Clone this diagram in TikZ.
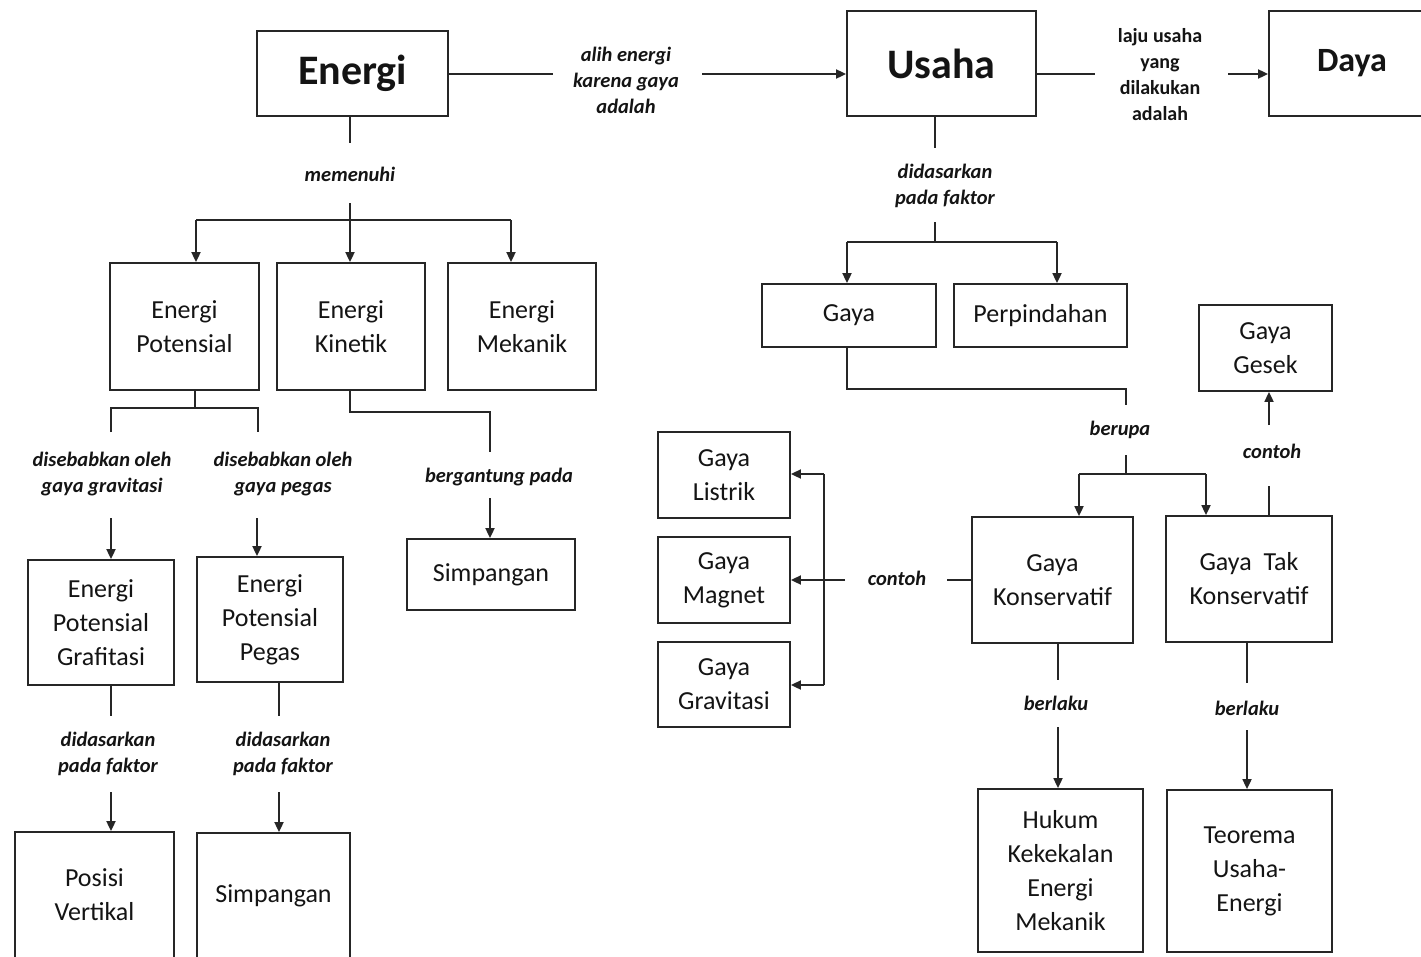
\documentclass[tikz,border=0pt]{standalone}
\usepackage{fontspec}
\setmainfont{Carlito}
\usetikzlibrary{arrows.meta}
\tikzset{
  box/.style={draw=black!85, line width=1.8pt, inner sep=0pt, align=center, text=black!92,
    font=\fontsize{26}{34}\selectfont},
  title/.style={box, font=\fontsize{42}{48}\selectfont\bfseries},
  lbl/.style={inner sep=0pt, align=center, text=black!92, font=\fontsize{20.5}{26}\selectfont\bfseries\itshape},
  lblup/.style={lbl, font=\fontsize{20}{26}\selectfont\bfseries},
  conn/.style={line width=1.8pt, draw=black!85},
  arr/.style={conn, -{Triangle[length=10pt,width=9pt]}}
}
\begin{document}
\begin{tikzpicture}[x=1pt,y=-1pt]
\clip (0,0) rectangle (1421,956);
\fill[white] (0,0) rectangle (1421,956);
% boxes
\node[title, minimum width=191pt, minimum height=85pt] (energi) at (352.5,73.5) {Energi};
\node[title, minimum width=189pt, minimum height=105pt] (usaha) at (941.5,63.5) {Usaha};
\node[title, minimum width=166pt, minimum height=105pt, font=\fontsize{34}{40}\selectfont\bfseries] (daya) at (1352,63.5) {Daya};
\node[box, minimum width=149pt, minimum height=127pt] (ep) at (184.5,326.5) {Energi\\Potensial};
\node[box, minimum width=148pt, minimum height=127pt] (ek) at (351,326.5) {Energi\\Kinetik};
\node[box, minimum width=148pt, minimum height=127pt] (em) at (522,326.5) {Energi\\Mekanik};
\node[box, minimum width=146pt, minimum height=125pt] (epg) at (101,622.5) {Energi\\Potensial\\Grafitasi};
\node[box, minimum width=146pt, minimum height=125pt] (epp) at (270,619.5) {Energi\\Potensial\\Pegas};
\node[box, minimum width=168pt, minimum height=71pt] (simp1) at (491,574.5) {Simpangan};
\node[box, minimum width=159pt, minimum height=126pt] (pv) at (94.5,895) {Posisi\\Vertikal};
\node[box, minimum width=153pt, minimum height=125pt] (simp2) at (273.5,895.5) {Simpangan};
\node[box, minimum width=174pt, minimum height=63pt] (gaya) at (849,315.5) {Gaya};
\node[box, minimum width=173pt, minimum height=63pt] (perp) at (1040.5,315.5) {Perpindahan};
\node[box, minimum width=133pt, minimum height=86pt] (gesek) at (1265.5,348) {Gaya\\Gesek};
\node[box, minimum width=132pt, minimum height=86pt] (listrik) at (724,475) {Gaya\\Listrik};
\node[box, minimum width=132pt, minimum height=86pt] (magnet) at (724,580) {Gaya\\Magnet};
\node[box, minimum width=132pt, minimum height=85pt] (gravitasi) at (724,684.5) {Gaya\\Gravitasi};
\node[box, minimum width=161pt, minimum height=126pt] (gk) at (1052.5,580) {Gaya\\Konservatif};
\node[box, minimum width=166pt, minimum height=126pt] (gtk) at (1249,579) {Gaya\ \ Tak\\Konservatif};
\node[box, minimum width=165pt, minimum height=163pt] (hukum) at (1060.5,870.5) {Hukum\\Kekekalan\\Energi\\Mekanik};
\node[box, minimum width=165pt, minimum height=162pt] (teorema) at (1249.5,871) {Teorema\\Usaha-\\Energi};
% labels
\node[lbl] (lalih) at (626,80) {alih energi\\karena gaya\\adalah};
\node[lblup] (llaju) at (1160,75) {laju usaha\\yang\\dilakukan\\adalah};
\node[lbl] (lmem) at (350,174) {memenuhi};
\node[lbl] (lsg) at (102,474) {disebabkan oleh\\gaya gravitasi};
\node[lbl] (lsp) at (283,474) {disebabkan oleh\\gaya pegas};
\node[lbl] (lber) at (499,477) {bergantung pada};
\node[lbl] (ldg) at (108,754) {didasarkan\\pada faktor};
\node[lbl] (ldp) at (283,754) {didasarkan\\pada faktor};
\node[lbl] (ldu) at (945,186) {didasarkan\\pada faktor};
\node[lbl] (lberupa) at (1120,430) {berupa};
\node[lbl] (lcon1) at (1272,451) {contoh};
\node[lbl] (lcon2) at (897,578) {contoh};
\node[lbl] (lbl1) at (1056,703) {berlaku};
\node[lbl] (lbl2) at (1247,708) {berlaku};
% coordinates
\coordinate (a1) at (553,74); \coordinate (a2) at (702,74);
\coordinate (b1) at (1095,74); \coordinate (b2) at (1228,74);
\coordinate (c0) at (350,143); \coordinate (c1) at (350,203); \coordinate (c2) at (350,220);
\coordinate (cl) at (196,220); \coordinate (cr) at (511,220);
\coordinate (d0) at (195,408); \coordinate (dl) at (111,408); \coordinate (dr) at (258,408);
\coordinate (dl2) at (111,432); \coordinate (dr2) at (258,432);
\coordinate (dl3) at (111,518); \coordinate (dr3) at (257,518);
\coordinate (e0) at (350,412); \coordinate (e1) at (490,412); \coordinate (e2) at (490,452); \coordinate (e3) at (490,498);
\coordinate (f0) at (111,716); \coordinate (f1) at (111,792);
\coordinate (g0) at (279,716); \coordinate (g1) at (279,792);
\coordinate (h0) at (935,148); \coordinate (h1) at (935,222); \coordinate (h2) at (935,242);
\coordinate (hl) at (847,242); \coordinate (hr) at (1057,242);
\coordinate (i0) at (847,389); \coordinate (i1) at (1126,389); \coordinate (i2) at (1126,405);
\coordinate (i3) at (1126,455); \coordinate (i4) at (1126,474);
\coordinate (il) at (1079,474); \coordinate (ir) at (1206,474);
\coordinate (k0) at (1269,486); \coordinate (k1) at (1269,425);
\coordinate (m0) at (947,580); \coordinate (m1) at (845,580);
\coordinate (vt) at (824,474); \coordinate (vb) at (824,685);
\coordinate (n0) at (1058,680); \coordinate (n1) at (1058,727);
\coordinate (o0) at (1247,683); \coordinate (o1) at (1247,730);
% connectors
\draw[conn] (a1 -| energi.east) -- (a1);
\draw[arr] (a2) -- (a2 -| usaha.west);
\draw[conn] (b1 -| usaha.east) -- (b1);
\draw[arr] (b2) -- (b2 -| daya.west);
\draw[conn] (c0 |- energi.south) -- (c0);
\draw[conn] (c1) -- (c2);
\draw[conn] (cl) -- (cr);
\draw[arr] (cl) -- (cl |- ep.north);
\draw[arr] (c2) -- (c2 |- ek.north);
\draw[arr] (cr) -- (cr |- em.north);
\draw[conn] (d0 |- ep.south) -- (d0);
\draw[conn] (dl2) -- (dl) -- (dr) -- (dr2);
\draw[arr] (dl3) -- (dl3 |- epg.north);
\draw[arr] (dr3) -- (dr3 |- epp.north);
\draw[conn] (e0 |- ek.south) -- (e0) -- (e1) -- (e2);
\draw[arr] (e3) -- (e3 |- simp1.north);
\draw[conn] (f0 |- epg.south) -- (f0);
\draw[arr] (f1) -- (f1 |- pv.north);
\draw[conn] (g0 |- epp.south) -- (g0);
\draw[arr] (g1) -- (g1 |- simp2.north);
\draw[conn] (h0 |- usaha.south) -- (h0);
\draw[conn] (h1) -- (h2);
\draw[conn] (hl) -- (hr);
\draw[arr] (hl) -- (hl |- gaya.north);
\draw[arr] (hr) -- (hr |- perp.north);
\draw[conn] (i0 |- gaya.south) -- (i0) -- (i1) -- (i2);
\draw[conn] (i3) -- (i4);
\draw[conn] (il) -- (ir);
\draw[arr] (il) -- (il |- gk.north);
\draw[arr] (ir) -- (ir |- gtk.north);
\draw[conn] (k0 |- gtk.north) -- (k0);
\draw[arr] (k1) -- (k1 |- gesek.south);
\draw[conn] (gk.west) -- (m0);
\draw[arr] (m1) -- (magnet.east);
\draw[conn] (vt) -- (vb);
\draw[arr] (vt) -- (vt -| listrik.east);
\draw[arr] (vb) -- (vb -| gravitasi.east);
\draw[conn] (n0 |- gk.south) -- (n0);
\draw[arr] (n1) -- (n1 |- hukum.north);
\draw[conn] (o0 |- gtk.south) -- (o0);
\draw[arr] (o1) -- (o1 |- teorema.north);
\end{tikzpicture}
\end{document}
